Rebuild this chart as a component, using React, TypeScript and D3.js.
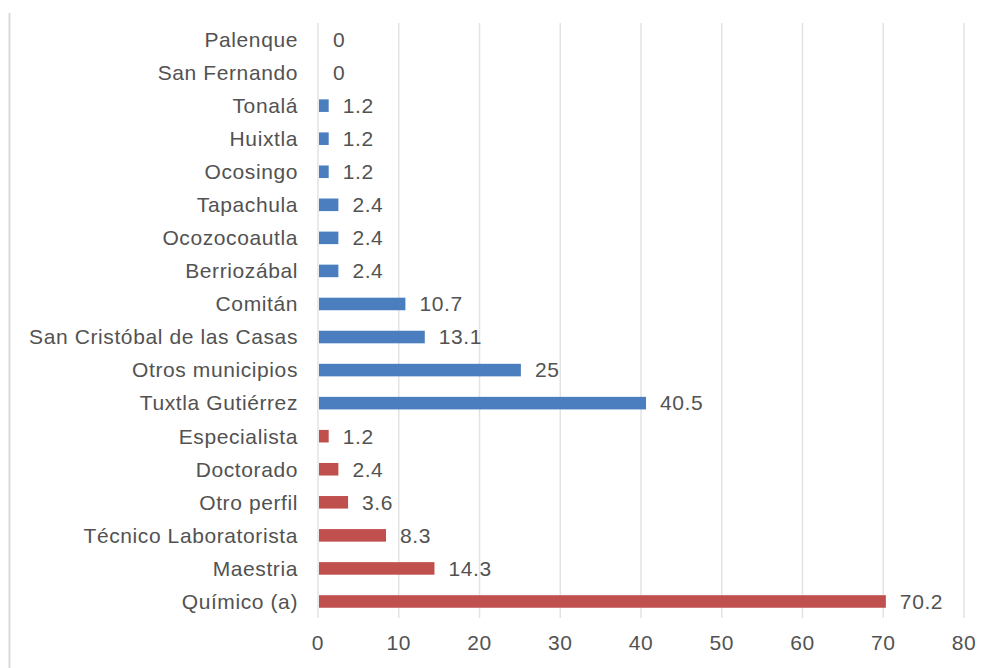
import React from "react";
import * as d3 from "d3";

const categories = [
  "Palenque", "San Fernando", "Tonalá", "Huixtla", "Ocosingo", "Tapachula",
  "Ocozocoautla", "Berriozábal", "Comitán", "San Cristóbal de las Casas",
  "Otros municipios", "Tuxtla Gutiérrez", "Especialista", "Doctorado",
  "Otro perfil", "Técnico Laboratorista", "Maestria", "Químico (a)",
];
const values = [0, 0, 1.2, 1.2, 1.2, 2.4, 2.4, 2.4, 10.7, 13.1, 25, 40.5, 1.2, 2.4, 3.6, 8.3, 14.3, 70.2];
const groups = ["mun", "mun", "mun", "mun", "mun", "mun", "mun", "mun", "mun", "mun", "mun", "mun", "per", "per", "per", "per", "per", "per"];
const xTicks = [0, 10, 20, 30, 40, 50, 60, 70, 80];

const colors: Record<string, string> = { mun: "#4A7EBF", per: "#C0504D" };

export default function App() {
  const W = 996, H = 668;
  const left = 318, right = 964, top = 23, bottom = 618;
  const x = d3.scaleLinear().domain([0, 80]).range([left, right]);
  const y = d3.scaleBand<string>().domain(categories).range([top, bottom]).paddingInner(0.62).paddingOuter(0.31);
  const font = "'Liberation Sans', Arial, sans-serif";
  const textStyle = { fontFamily: font, fontSize: 21, letterSpacing: 0.6, fill: "#525252" } as any;
  return (
    <svg width={W} height={H} style={{ position: "absolute", left: 0, top: 0, background: "#fff" }}>
      <line x1={9.5} x2={9.5} y1={13} y2={H} stroke="#D9D9D9" strokeWidth={2} />
      {xTicks.map((t) => (
        <line key={t} x1={x(t)} x2={x(t)} y1={top} y2={bottom} stroke="#E3E3E3" strokeWidth={1.5} />
      ))}
      {categories.map((c, i) => {
        const yc = (y(c) as number) + y.bandwidth() / 2;
        return (
          <g key={c}>
            <rect x={x(0) + 1} y={y(c)} width={Math.max(0, x(values[i]) - x(0))} height={y.bandwidth()} fill={colors[groups[i]]} />
            <text x={298} y={yc} dy="0.35em" textAnchor="end" style={textStyle}>{c}</text>
            <text x={x(values[i]) + 15} y={yc} dy="0.35em" textAnchor="start" style={textStyle}>{values[i]}</text>
          </g>
        );
      })}
      {xTicks.map((t) => (
        <text key={t} x={x(t)} y={643} dy="0.35em" textAnchor="middle" style={textStyle}>{t}</text>
      ))}
    </svg>
  );
}
